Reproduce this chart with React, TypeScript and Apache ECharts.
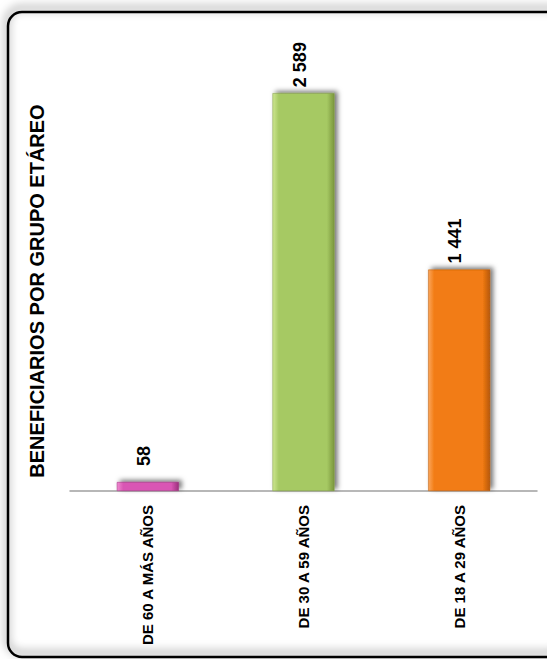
import React, { useEffect, useRef } from "react";
import * as echarts from "echarts";

const categories = ["DE 60 A MÁS AÑOS", "DE 30 A 59 AÑOS", "DE 18 A 29 AÑOS"];
const values = [58, 2589, 1441];
const titleText = "BENEFICIARIOS POR GRUPO ETÁREO";

// styling (not data)
const barColors = [
  ["#f08ad0", "#d957b4", "#9c2f7c"],
  ["#cde690", "#a6c963", "#7a963c"],
  ["#fba55a", "#f27b13", "#b65808"],
];
const labelDistances = [16, 6, 6];

const FONT = "'Liberation Sans', Arial, Helvetica, sans-serif";

function fmt(v: number): string {
  const s = String(v);
  return s.replace(/\B(?=(\d{3})+(?!\d))/g, " ");
}

export default function App() {
  const ref = useRef<HTMLDivElement>(null);
  useEffect(() => {
    if (!ref.current) return;
    const chart = echarts.init(ref.current, null, { renderer: "svg" });
    const data = values.map((v, i) => ({
      value: v,
      label: { distance: labelDistances[i] },
      itemStyle: {
        color: new echarts.graphic.LinearGradient(0, 0, 1, 0, [
          { offset: 0, color: barColors[i][0] },
          { offset: 0.1, color: barColors[i][1] },
          { offset: 0.88, color: barColors[i][1] },
          { offset: 1, color: barColors[i][2] },
        ]),
        borderColor: barColors[i][2],
        borderWidth: 0.5,
        shadowBlur: 5,
        shadowColor: "rgba(0,0,0,0.55)",
        shadowOffsetX: 3,
        shadowOffsetY: -2,
      },
    }));
    chart.setOption({
      animation: false,
      backgroundColor: "#ffffff",
      grid: { left: 70, right: 10, top: 30, bottom: 168 },
      xAxis: {
        type: "category",
        data: categories,
        axisLine: { show: true, lineStyle: { color: "#a0a0a0", width: 1.5 } },
        axisTick: { show: false },
        axisLabel: {
          rotate: 90,
          margin: 14,
          interval: 0,
          color: "#000",
          fontWeight: "bold",
          fontSize: 15,
          fontFamily: FONT,
        },
      },
      yAxis: {
        type: "value",
        min: 0,
        max: 3000,
        show: false,
        splitLine: { show: false },
      },
      series: [
        {
          type: "bar",
          data,
          barWidth: 62,
          label: {
            show: true,
            position: "top",
            rotate: 90,
            distance: 6,
            align: "left",
            verticalAlign: "middle",
            offset: [0, -4],
            color: "#000",
            fontWeight: "bold",
            fontSize: 18,
            fontFamily: FONT,
            formatter: (p: any) => fmt(p.value),
          },
        },
      ],
      graphic: [
        {
          type: "rect",
          z: 100,
          shape: { x: 8, y: 12, width: 556, height: 645, r: 14 },
          style: {
            fill: "none",
            stroke: "#000",
            lineWidth: 2.5,
            shadowBlur: 10,
            shadowColor: "rgba(0,0,0,0.6)",
            shadowOffsetX: -1,
            shadowOffsetY: -4,
          },
        },
        {
          type: "text",
          x: 37,
          y: 291,
          rotation: Math.PI / 2,
          style: {
            text: titleText,
            fill: "#000",
            font: `bold 20px ${FONT}`,
            align: "center",
            verticalAlign: "middle",
          },
        },
      ],
    });
    return () => chart.dispose();
  }, []);
  return (
    <div
      ref={ref}
      style={{ position: "absolute", left: 0, top: 0, width: 547, height: 659 }}
    />
  );
}
